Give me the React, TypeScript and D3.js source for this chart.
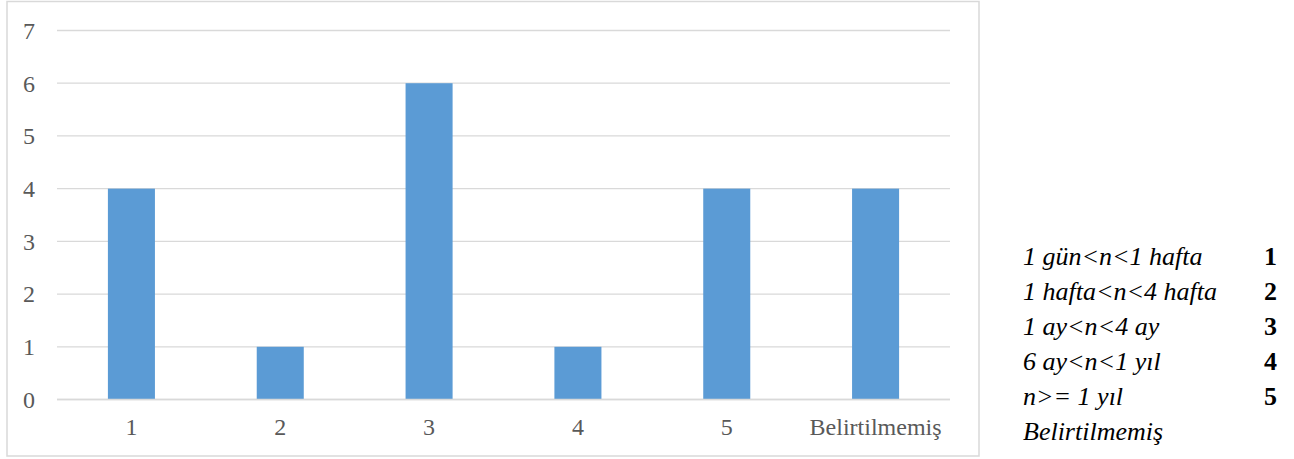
import React from "react";
import * as d3 from "d3";

const categories = ["1", "2", "3", "4", "5", "Belirtilmemiş"];
const values = [4, 1, 6, 1, 4, 4];
const yTicks = [0, 1, 2, 3, 4, 5, 6, 7];
const legendLabels = ["1 gün<n<1 hafta", "1 hafta<n<4 hafta", "1 ay<n<4 ay", "6 ay<n<1 yıl", "n>= 1 yıl", "Belirtilmemiş"];
const legendCodes = ["1", "2", "3", "4", "5", ""];

export default function App() {
  const W = 1294, H = 459;
  const x = d3.scaleBand<string>().domain(categories).range([57, 950]).padding(0);
  const y = d3.scaleLinear().domain([0, 7]).range([399.5, 30.5]);
  const bw = x.bandwidth() * 0.316;
  const serif = { fontFamily: "Liberation Serif" };
  return (
    <svg width={W} height={H} style={{ position: "absolute", left: 0, top: 0 }}>
      <rect x={0} y={0} width={W} height={H} fill="#fff" />
      <rect x={7} y={1.5} width={972} height={454.5} fill="#fff" stroke="#d9d9d9" strokeWidth={1.5} />
      {yTicks.map((t) => (
        <g key={t}>
          <line x1={57} x2={950} y1={y(t)} y2={y(t)} stroke="#d9d9d9" strokeWidth={1.3} />
          <text x={35} y={y(t)} dy="0.35em" textAnchor="end" style={serif} fontSize={24} fill="#595959">{t}</text>
        </g>
      ))}
      {categories.map((c, i) => (
        <rect key={c} x={x(c)! + x.bandwidth() / 2 - bw / 2} y={y(values[i])} width={bw} height={y(0) - y(values[i])} fill="#5b9bd5" />
      ))}
      <line x1={57} x2={950} y1={y(0)} y2={y(0)} stroke="#d9d9d9" strokeWidth={1.3} />
      {categories.map((c) => (
        <text key={c} x={x(c)! + x.bandwidth() / 2} y={435} textAnchor="middle" style={serif} fontSize={24} fill="#595959">{c}</text>
      ))}
      {legendLabels.map((l, i) => (
        <g key={l}>
          <text x={1023} y={265 + i * 35} style={serif} fontStyle="italic" fontSize={26} fill="#000">{l}</text>
          <text x={1277} y={265 + i * 35} textAnchor="end" style={serif} fontWeight="bold" fontSize={26} fill="#000">{legendCodes[i]}</text>
        </g>
      ))}
    </svg>
  );
}
